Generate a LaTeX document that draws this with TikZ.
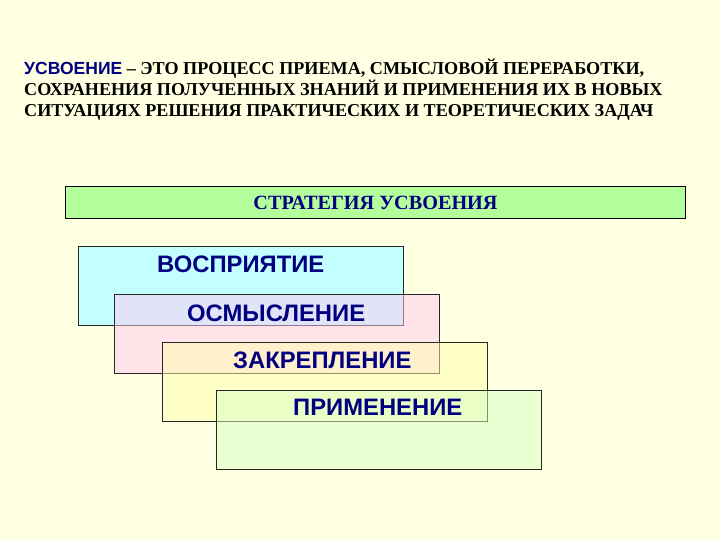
\documentclass[tikz,border=0pt]{standalone}
\usepackage{fontspec}
\setmainfont{Liberation Serif}
\newfontfamily\arialf{Liberation Sans}
\definecolor{bgc}{RGB}{255,255,225}
\definecolor{navyc}{RGB}{0,0,128}
\definecolor{stratc}{RGB}{180,255,156}
\definecolor{cyanc}{RGB}{196,255,255}
\definecolor{pinkc}{RGB}{255,201,240}
\definecolor{yelc}{RGB}{255,255,176}
\definecolor{grnc}{RGB}{215,255,196}
\tikzset{
  titleline/.style={anchor=base west, inner sep=0pt, font=\bfseries\fontsize{18.2}{21}\selectfont},
  stagebox/.style={draw=black!85, line width=0.8pt, minimum width=325bp, minimum height=79bp, inner sep=0pt},
  stagetext/.style={anchor=base west, inner sep=0pt, text=navyc, font=\arialf\bfseries\fontsize{23.9}{28}\selectfont}
}
\begin{document}
\begin{tikzpicture}[x=1bp,y=-1bp]
\fill[bgc] (0,0) rectangle (720,540);
\useasboundingbox (0,0) rectangle (720,540);
\node[titleline] (t1) at (24,75) {{\arialf\fontsize{17.6}{21}\selectfont\color{navyc}УСВОЕНИЕ} – ЭТО ПРОЦЕСС ПРИЕМА, СМЫСЛОВОЙ ПЕРЕРАБОТКИ,};
\node[titleline] (t2) at (24,96) {СОХРАНЕНИЯ ПОЛУЧЕННЫХ ЗНАНИЙ И ПРИМЕНЕНИЯ ИХ В НОВЫХ};
\node[titleline] (t3) at (24,117) {СИТУАЦИЯХ РЕШЕНИЯ ПРАКТИЧЕСКИХ И ТЕОРЕТИЧЕСКИХ ЗАДАЧ};
\node[draw=black, line width=1pt, fill=stratc, minimum width=619bp, minimum height=32bp, inner sep=0pt] (strat) at (375.5,202) {};
\node[anchor=base, inner sep=0pt, text=navyc, font=\bfseries\fontsize{20.3}{24}\selectfont] (stratt) at (375.5,210) {СТРАТЕГИЯ УСВОЕНИЯ};
\node[stagebox, fill=cyanc] (b1) at (240.5,285.5) {};
\node[stagebox, fill=pinkc, fill opacity=0.5] (b2) at (276.5,333.5) {};
\node[stagebox, fill=yelc, fill opacity=0.5] (b3) at (324.5,382) {};
\node[stagebox, fill=grnc, fill opacity=0.5] (b4) at (379,429.5) {};
\node[stagetext] (l1) at (157,273) {ВОСПРИЯТИЕ};
\node[stagetext] (l2) at (187,321) {ОСМЫСЛЕНИЕ};
\node[stagetext] (l3) at (233,368) {ЗАКРЕПЛЕНИЕ};
\node[stagetext] (l4) at (293,415) {ПРИМЕНЕНИЕ};
\end{tikzpicture}
\end{document}
